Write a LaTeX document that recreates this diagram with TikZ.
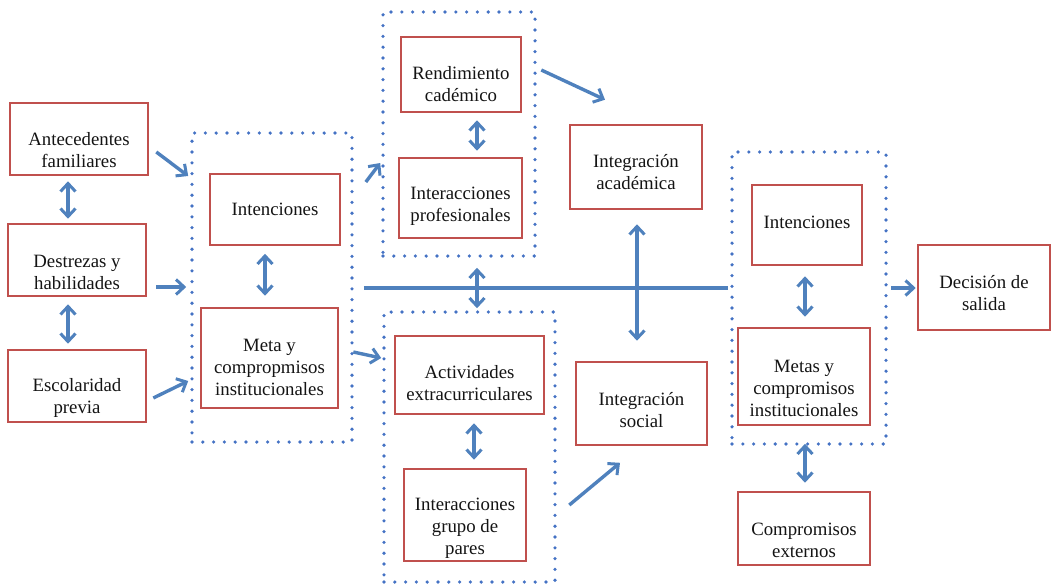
\documentclass[tikz,border=0pt]{standalone}
\usepackage{fontspec}
\setmainfont{Liberation Serif}
\usetikzlibrary{arrows.meta}
\definecolor{boxred}{RGB}{192,80,77}
\definecolor{arrblue}{RGB}{79,129,189}
\definecolor{dotblue}{RGB}{68,114,196}
\definecolor{txt}{RGB}{20,20,20}
\tikzset{
  stage/.style={draw=boxred, line width=2.6pt, fill=white, inner sep=0pt},
  caption/.style={align=center, text=txt, inner sep=0pt,
    font=\fontsize{18.8}{22}\selectfont, yshift=-#1},
  caption/.default=0pt,
  group/.style={draw=dotblue, line width=3.6pt, line cap=round, dash pattern=on 0pt off 10.8pt,
    inner sep=0pt},
  arr/.style={draw=arrblue, line width=3.4pt, -{Straight Barb[length=8pt,width=15pt,line width=3pt]}},
  darr/.style={draw=arrblue, line width=3.4pt, {Straight Barb[length=8pt,width=15pt,line width=3pt]}-{Straight Barb[length=8pt,width=15pt,line width=3pt]}},
  link/.style={draw=arrblue, line width=3.4pt},
}
\begin{document}
\begin{tikzpicture}[x=1pt,y=-1pt]
\useasboundingbox (0,0) rectangle (1052,587);

% dotted groupings
\node[group, minimum width=160pt, minimum height=309pt] (g1) at (272,287.5) {};
\node[group, minimum width=152pt, minimum height=244pt] (g2) at (459,134) {};
\node[group, minimum width=171pt, minimum height=270pt] (g3) at (469.5,447) {};
\node[group, minimum width=154pt, minimum height=292pt] (g4) at (809,298) {};

% stages (caption set a little below the box centre)
\node[stage, minimum width=138pt, minimum height=72pt,
  label={[caption=11pt]center:{Antecedentes\\familiares}}] (ant) at (79,139) {};
\node[stage, minimum width=138pt, minimum height=72pt,
  label={[caption=12pt]center:{Destrezas y\\habilidades}}] (des) at (77,260) {};
\node[stage, minimum width=138pt, minimum height=72pt,
  label={[caption=12pt]center:{Escolaridad\\previa}}] (esc) at (77,386) {};
\node[stage, minimum width=130pt, minimum height=71pt,
  label={[caption=0pt]center:{Intenciones}}] (int1) at (275,209.5) {};
\node[stage, minimum width=137pt, minimum height=100pt,
  label={[caption=9pt]center:{Meta y\\compropmisos\\institucionales}}] (meta1) at (269.5,358) {};
\node[stage, minimum width=120pt, minimum height=75pt,
  label={[caption=10pt]center:{Rendimiento\\cadémico}}] (rend) at (461,74.5) {};
\node[stage, minimum width=123pt, minimum height=80pt,
  label={[caption=8pt]center:{Interacciones\\profesionales}}] (prof) at (460.5,198) {};
\node[stage, minimum width=132pt, minimum height=84pt,
  label={[caption=5.5pt]center:{Integración\\académica}}] (acad) at (636,167) {};
\node[stage, minimum width=149pt, minimum height=78pt,
  label={[caption=8.5pt]center:{Actividades\\extracurriculares}}] (act) at (469.5,375) {};
\node[stage, minimum width=122pt, minimum height=92pt,
  label={[caption=13pt]center:{Interacciones\\grupo de\\pares}}] (pares) at (465,515) {};
\node[stage, minimum width=131pt, minimum height=83pt,
  label={[caption=6.5pt]center:{Integración\\social}}] (soc) at (641.5,403.5) {};
\node[stage, minimum width=110pt, minimum height=80pt,
  label={[caption=-3pt]center:{Intenciones}}] (int2) at (807,225) {};
\node[stage, minimum width=132pt, minimum height=97pt,
  label={[caption=11.5pt]center:{Metas y\\compromisos\\institucionales}}] (meta2) at (804,376.5) {};
\node[stage, minimum width=132pt, minimum height=85pt,
  label={[caption=5.5pt]center:{Decisión de\\salida}}] (dec) at (984,287.5) {};
\node[stage, minimum width=132pt, minimum height=73pt,
  label={[caption=11.5pt]center:{Compromisos\\externos}}] (ext) at (804,528.5) {};

% background attributes feeding the first grouping
\draw[arr] ([shift={(7,13)}]ant.east) -- ([shift={(-2,-111.5)}]g1.west);
\draw[arr] ([shift={(9,0)}]des.east |- 0,287) -- ([shift={(-4,0)}]g1.west |- 0,287);
\draw[arr] ([shift={(6,12)}]esc.east) -- ([shift={(-2,93.5)}]g1.west);
\draw[darr] ([shift={(-11,5)}]ant.south) -- ([shift={(-9,-4)}]des.north);
\draw[darr] ([shift={(-9,7)}]des.south) -- ([shift={(-9,-5)}]esc.north);
\draw[darr] ([shift={(-10,7.5)}]int1.south) -- ([shift={(-4.5,-11)}]meta1.north);

% academic and social systems
\draw[arr] ([shift={(12,-105.5)}]g1.east) -- ([shift={(-1,29)}]g2.west);
\draw[arr] ([shift={(14,-6)}]meta1.east) -- ([shift={(-1,-89)}]g3.west);
\draw[arr] ([shift={(19,-4.5)}]rend.east) -- ([shift={(-31,-24)}]acad.north);
\draw[darr] ([shift={(16,7)}]rend.south) -- ([shift={(16.5,-6)}]prof.north);
\draw[darr] ([shift={(4.5,8)}]act.south) -- ([shift={(9,-8)}]pares.north);
\draw[arr] ([shift={(42,-10)}]pares.east) -- ([shift={(-21.5,16.5)}]soc.south);

% central axis
\coordinate (hl) at ([shift={(10,0.5)}]g1.east);
\coordinate (hr) at ([shift={(-2,-10)}]g4.west);
\draw[link] (hl) -- (hr);
\draw[darr] ([shift={(18,10)}]g2.south) -- ([shift={(7.5,-2)}]g3.north);
\draw[darr] ([shift={(1,14)}]acad.south) -- ([shift={(-4.5,-20)}]soc.north);

% final grouping and outcome
\draw[darr] ([shift={(-2,10)}]int2.south) -- ([shift={(1,-10)}]meta2.north);
\draw[arr] ([shift={(3,-10)}]g4.east) -- ([shift={(-1,0.5)}]dec.west);
\draw[darr] ([shift={(-4,-2)}]g4.south) -- ([shift={(1,-8)}]ext.north);
\end{tikzpicture}
\end{document}
